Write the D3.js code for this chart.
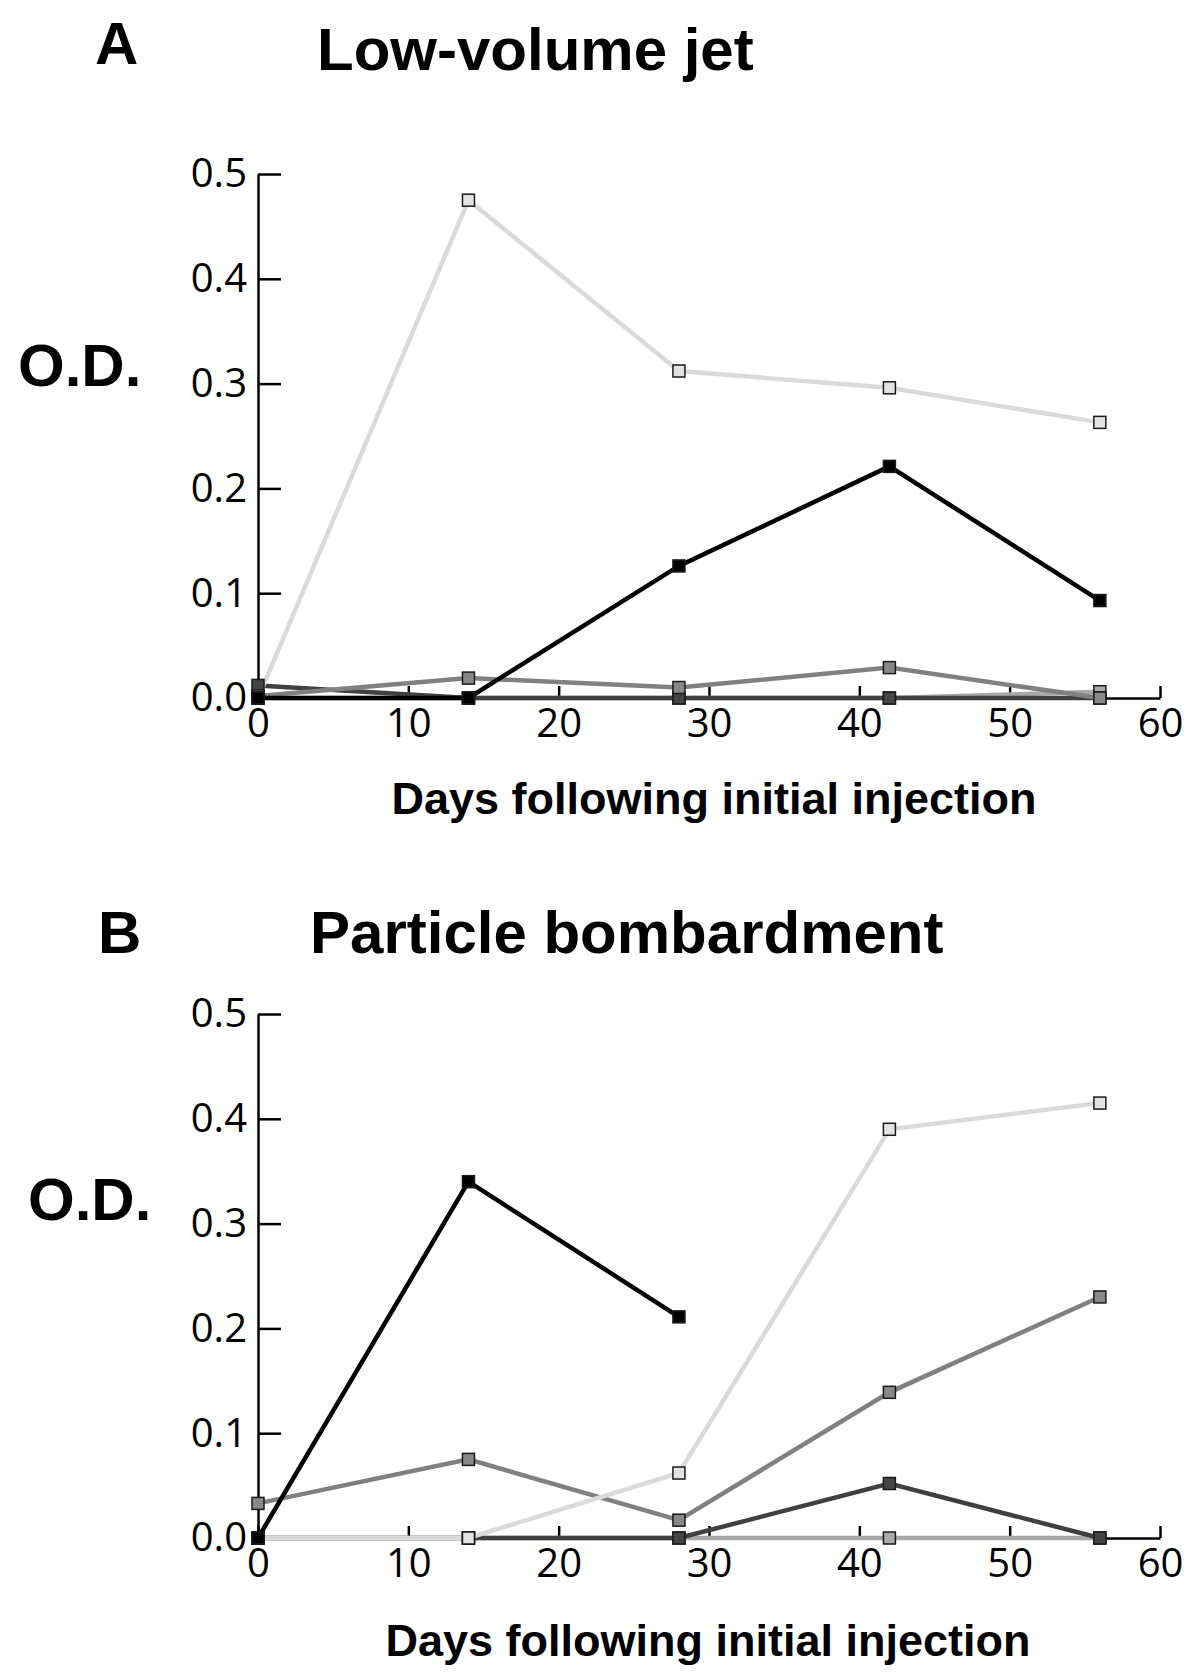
<!DOCTYPE html>
<html>
<head>
<meta charset="utf-8">
<script src="https://cdn.jsdelivr.net/npm/d3@7"></script>
<style>
  html, body { margin: 0; padding: 0; background: #fff; }
  svg { display: block; }
</style>
</head>
<body>
<svg id="chart" width="1197" height="1675"></svg>
<script>
// ---- Data ----
const days = [0, 14, 28, 42, 56];
const xTicks = [0, 10, 20, 30, 40, 50, 60];
const yTicks = [0.0, 0.1, 0.2, 0.3, 0.4, 0.5];

// Panel A: Low-volume jet
const aPale   = [0, 0, 0, 0, 0.006];
const aDark   = [0.012, 0, 0, 0, 0];
const aMedium = [0.002, 0.019, 0.010, 0.029, 0];
const aLight  = [0, 0.475, 0.312, 0.296, 0.263];
const aBlack  = [0, 0, 0.126, 0.221, 0.093];

// Panel B: Particle bombardment
const bPale   = [0, 0, 0, 0, 0];
const bDark   = [0, 0, 0, 0.052, 0];
const bMedium = [0.033, 0.075, 0.017, 0.139, 0.230];
const bLight  = [0, 0, 0.062, 0.390, 0.415];
const bBlack  = [0, 0.340, 0.211, null, null];

const panels = [
  { letter: "A", title: "Low-volume jet", top: 174, bottom: 698,
    letterPos: [95, 64], titlePos: [317, 70], odPos: [18, 386], xlabPos: [714, 814],
    series: [aPale, aDark, aMedium, aLight, aBlack] },
  { letter: "B", title: "Particle bombardment", top: 1014, bottom: 1538,
    letterPos: [98, 953], titlePos: [310, 953], odPos: [28, 1220], xlabPos: [708, 1656],
    series: [bPale, bDark, bMedium, bLight, bBlack] }
];

const styles = [
  { line: "#a8a8a8", fill: "#ababab" },
  { line: "#404040", fill: "#454545" },
  { line: "#808080", fill: "#888888" },
  { line: "#dadada", fill: "#e2e2e2" },
  { line: "#000000", fill: "#000000" }
];

const svg = d3.select("#chart");
const x = d3.scaleLinear().domain([0, 60]).range([258, 1160]);
const boldFont = "'Liberation Sans', Arial, sans-serif";
const tickFont = "'Open Sans', 'Noto Sans', sans-serif";

panels.forEach(p => {
  const y = d3.scaleLinear().domain([0, 0.5]).range([p.bottom, p.top]);
  const g = svg.append("g");

  g.append("text").attr("x", p.letterPos[0]).attr("y", p.letterPos[1])
    .attr("font-family", boldFont).attr("font-weight", "bold").attr("font-size", 60)
    .text(p.letter);
  g.append("text").attr("x", p.titlePos[0]).attr("y", p.titlePos[1])
    .attr("font-family", boldFont).attr("font-weight", "bold").attr("font-size", 60)
    .text(p.title);
  g.append("text").attr("x", p.odPos[0]).attr("y", p.odPos[1])
    .attr("font-family", boldFont).attr("font-weight", "bold").attr("font-size", 60)
    .text("O.D.");
  g.append("text").attr("x", p.xlabPos[0]).attr("y", p.xlabPos[1])
    .attr("text-anchor", "middle")
    .attr("font-family", boldFont).attr("font-weight", "bold").attr("font-size", 45)
    .text("Days following initial injection");

  // axes
  const yAxis = d3.axisLeft(y).tickValues(yTicks).tickFormat(d3.format(".1f"))
    .tickSize(-23).tickSizeOuter(0).tickPadding(11);
  const xAxis = d3.axisBottom(x).tickValues(xTicks).tickFormat(d3.format("d"))
    .tickSize(-12).tickSizeOuter(0).tickPadding(11);

  const ya = g.append("g").attr("transform", `translate(${x(0)},0)`).call(yAxis);
  const xa = g.append("g").attr("transform", `translate(0,${y(0)})`).call(xAxis);
  [ya, xa].forEach(a => {
    a.selectAll("path.domain").attr("stroke", "#000").attr("stroke-width", 2.5);
    a.selectAll(".tick line").attr("stroke", "#000").attr("stroke-width", 2.5);
    a.selectAll(".tick text").attr("font-family", tickFont).attr("font-size", 40).attr("fill", "#000");
  });

  const line = d3.line()
    .defined(d => d[1] !== null)
    .x(d => x(d[0])).y(d => y(d[1]));

  const sdata = p.series.map(vals => days.map((d, i) => [d, vals[i]]));

  sdata.forEach((pts, i) => {
    g.append("path").datum(pts)
      .attr("fill", "none").attr("stroke", styles[i].line)
      .attr("stroke-width", 4.5).attr("stroke-linejoin", "miter")
      .attr("d", line);
  });
  const s = 12;
  sdata.forEach((pts, i) => {
    g.selectAll(null).data(pts.filter(d => d[1] !== null)).enter()
      .append("rect")
      .attr("x", d => x(d[0]) - s / 2).attr("y", d => y(d[1]) - s / 2)
      .attr("width", s).attr("height", s)
      .attr("fill", styles[i].fill).attr("stroke", "#1a1a1a").attr("stroke-width", 1.5);
  });
});
</script>
</body>
</html>
